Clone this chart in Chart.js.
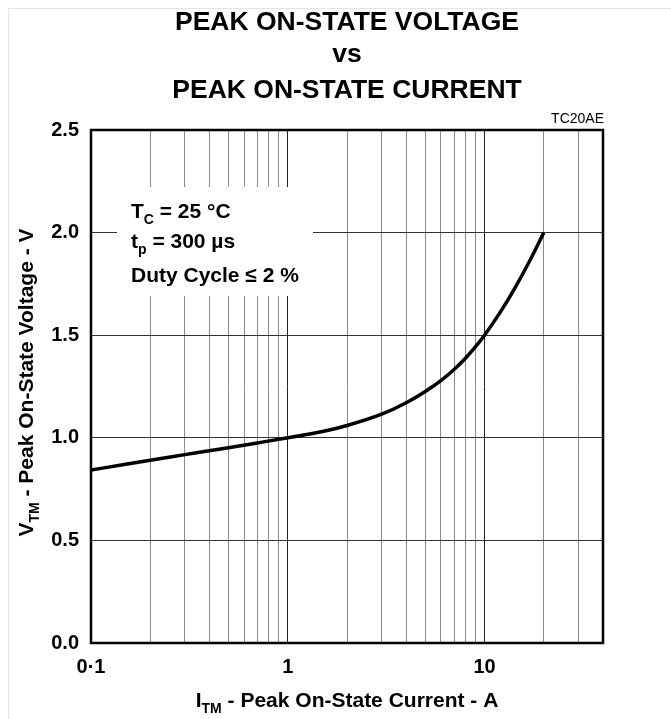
<!DOCTYPE html>
<html>
<head>
<meta charset="utf-8">
<script src="https://cdn.jsdelivr.net/npm/chart.js@4/dist/chart.umd.min.js"></script>
<style>
html,body{margin:0;padding:0;background:#fff;}
#wrap{position:relative;width:671px;height:719px;}
#frame{position:absolute;left:8px;top:8px;width:663px;height:711px;border-left:1px solid #e4e4e4;border-top:1px solid #e4e4e4;box-sizing:border-box;pointer-events:none;}
</style>
</head>
<body>
<div id="wrap">
<canvas id="c" width="671" height="719"></canvas>
<div id="frame"></div>
</div>
<script>
// ---- data ----
const currentA = [0.1, 0.15, 0.2, 0.3, 0.5, 0.7, 1, 1.5, 2, 3, 4, 5, 6, 7, 8, 9, 10, 12, 14, 17, 20];
const voltageV = [0.843, 0.871, 0.891, 0.918, 0.952, 0.975, 1.0, 1.031, 1.06, 1.115, 1.171, 1.226, 1.279, 1.333, 1.388, 1.444, 1.5, 1.611, 1.716, 1.864, 2.0];
const xGridValues = [0.1,0.2,0.3,0.4,0.5,0.6,0.7,0.8,0.9,1,2,3,4,5,6,7,8,9,10,20,30,40];
const xLabelMap = {0.1:'0·1', 1:'1', 10:'10'};
const yTickValues = [0, 0.5, 1.0, 1.5, 2.0, 2.5];
const titleLines = ['PEAK ON-STATE VOLTAGE', 'vs', 'PEAK ON-STATE CURRENT'];
const noteLines = [['T','C',' = 25 °C'], ['t','p',' = 300 µs'], ['Duty Cycle ≤ 2 %','','']];
const figCode = 'TC20AE';
const xTitle = ['I','TM',' - Peak On-State Current - A'];
const yTitle = ['V','TM',' - Peak On-State Voltage - V'];

const FONT = '"Liberation Sans", Arial, sans-serif';

function drawSubText(ctx, parts, x, y, size, align) {
  const sub = Math.round(size*0.68);
  ctx.font = 'bold ' + size + 'px ' + FONT;
  const w1 = ctx.measureText(parts[0]).width;
  ctx.font = 'bold ' + sub + 'px ' + FONT;
  const w2 = parts[1] ? ctx.measureText(parts[1]).width : 0;
  ctx.font = 'bold ' + size + 'px ' + FONT;
  const w3 = parts[2] ? ctx.measureText(parts[2]).width : 0;
  const total = w1 + w2 + w3;
  const sx = align === 'center' ? x - total/2 : x;
  ctx.textAlign = 'left';
  ctx.textBaseline = 'alphabetic';
  ctx.fillText(parts[0], sx, y);
  if (parts[1]) {
    ctx.font = 'bold ' + sub + 'px ' + FONT;
    ctx.fillText(parts[1], sx + w1, y + size*0.28);
  }
  if (parts[2]) {
    ctx.font = 'bold ' + size + 'px ' + FONT;
    ctx.fillText(parts[2], sx + w1 + w2, y);
  }
}

const decor = {
  id: 'decor',
  beforeDatasetsDraw(chart) {
    const {ctx} = chart;
    ctx.save();
    ctx.fillStyle = '#fff';
    ctx.fillRect(117, 187, 196, 109);
    ctx.fillStyle = '#000';
    const yy = [218, 248, 282];
    noteLines.forEach((p, i) => drawSubText(ctx, p, 131, yy[i], 21, 'left'));
    ctx.restore();
  },
  afterDraw(chart) {
    const {ctx, chartArea: a} = chart;
    ctx.save();
    ctx.strokeStyle = '#000';
    ctx.lineWidth = 2.5;
    ctx.strokeRect(a.left, a.top, a.right - a.left, a.bottom - a.top);
    ctx.fillStyle = '#000';
    ctx.font = 'bold 26.5px ' + FONT;
    ctx.textAlign = 'center';
    ctx.textBaseline = 'alphabetic';
    const ty = [30, 62, 98];
    titleLines.forEach((t, i) => ctx.fillText(t, 347, ty[i]));
    ctx.font = '14px ' + FONT;
    ctx.textAlign = 'right';
    ctx.fillText(figCode, 604, 123);
    drawSubText(ctx, xTitle, (a.left + a.right)/2, 707, 21, 'center');
    ctx.translate(33, (a.top + a.bottom)/2 - 4);
    ctx.rotate(-Math.PI/2);
    drawSubText(ctx, yTitle, 0, 0, 21, 'center');
    ctx.restore();
  }
};

new Chart(document.getElementById('c'), {
  type: 'line',
  data: {
    datasets: [{
      data: currentA.map((x, i) => ({x: x, y: voltageV[i]})),
      borderColor: '#000',
      borderWidth: 3.5,
      pointRadius: 0,
      fill: false,
      cubicInterpolationMode: 'monotone'
    }]
  },
  options: {
    responsive: false,
    animation: false,
    devicePixelRatio: 1,
    layout: {padding: {left: 0, top: 130, right: 68, bottom: 0}},
    plugins: {legend: {display: false}, tooltip: {enabled: false}, title: {display: false}},
    scales: {
      x: {
        type: 'logarithmic',
        min: 0.1,
        max: 40,
        afterBuildTicks(s) { s.ticks = xGridValues.map(v => ({value: v})); },
        afterFit(s) { s.height = 76; },
        grid: {
          drawTicks: false,
          color: c => (c.tick && (c.tick.value === 1 || c.tick.value === 10)) ? '#222' : '#8a8a8a',
          lineWidth: 1
        },
        border: {display: false},
        ticks: {
          autoSkip: false,
          maxRotation: 0,
          padding: 12,
          color: '#000',
          font: {family: FONT, weight: 'bold', size: 20},
          callback: v => (xLabelMap[v] !== undefined ? xLabelMap[v] : '')
        }
      },
      y: {
        type: 'linear',
        min: 0,
        max: 2.5,
        afterBuildTicks(s) { s.ticks = yTickValues.map(v => ({value: v})); },
        afterFit(s) { s.width = 91; },
        grid: {drawTicks: false, color: '#333', lineWidth: 1},
        border: {display: false},
        ticks: {
          padding: 12,
          color: '#000',
          font: {family: FONT, weight: 'bold', size: 20},
          callback: v => v.toFixed(1)
        }
      }
    }
  },
  plugins: [decor]
});
</script>
</body>
</html>
